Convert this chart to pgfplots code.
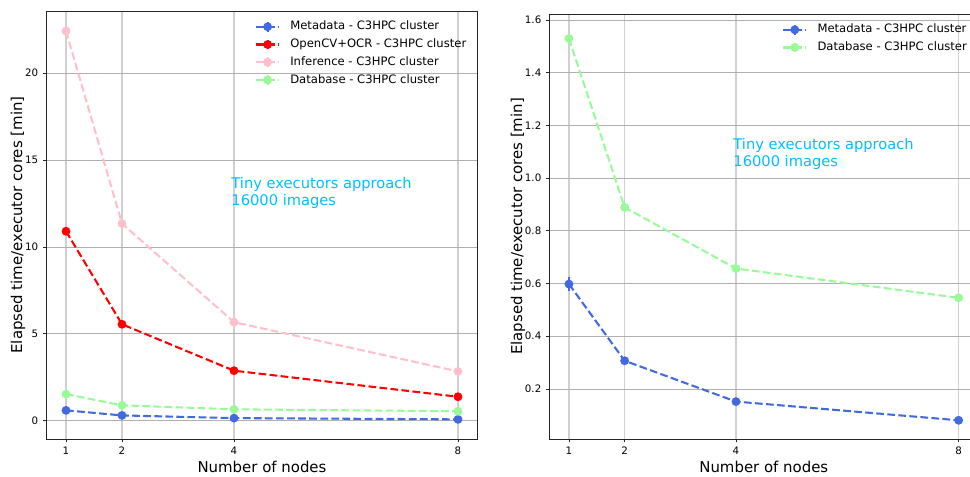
\documentclass[border=0pt]{standalone}
\usepackage{fontspec}
\setmainfont{DejaVu Sans}
\usepackage{pgfplots}
\pgfplotsset{compat=1.18}

\definecolor{royalblue}{RGB}{65,105,225}
\definecolor{pinkc}{RGB}{255,192,203}
\definecolor{palegreen}{RGB}{152,251,152}
\definecolor{deepskyblue}{RGB}{0,191,255}
\definecolor{gridgray}{RGB}{176,176,176}
\definecolor{gridlight}{RGB}{208,208,208}

\pgfplotsset{
  panel/.style={
    scale only axis,
    axis line style={black!85, line width=0.6pt},
    xmin=0.65, xmax=8.35,
    xtick={1,2,4,8},
    grid=major,
    x grid style={gridlight, line width=1.1pt},
    y grid style={gridgray, line width=0.6pt},
    tick align=outside,
    xtick pos=bottom, ytick pos=left,
    major tick length=2.6pt,
    tick style={black!85, line width=0.6pt},
    ticklabel style={font=\fontsize{7.7}{9}\selectfont},
    /pgf/number format/assume math mode=true,
    label style={font=\fontsize{11.2}{13}\selectfont},
    xlabel={Number of nodes},
    ylabel={Elapsed time/executor cores [min]},
    ylabel shift=-7pt,
    xlabel shift=-2.5pt,
    legend cell align=left,
    legend style={draw=none, fill=none, inner sep=0pt,
      font=\fontsize{8.7}{10}\selectfont,
      at={(1,1)}, anchor=north east, xshift=-8.25pt, yshift=-7.25pt,
      column sep=7.5pt, row sep=4.55pt,
      nodes={inner sep=0pt, text height=6.5pt, text depth=1.7pt}},
    legend image code/.code={
      \draw[##1, mark=none] (0pt,0pt) -- (17.5pt,0pt);
      \draw[##1, solid, mark=none] (8.75pt,-3.6pt) -- (8.75pt,3.6pt);
      \path[##1, draw=none] plot coordinates {(8.75pt,0pt)};
    },
  },
  series/.style={
    color=#1, line width=1.55pt, dash pattern=on 5.8pt off 2.5pt,
    mark=*, mark size=2.5pt, mark options={solid},
    error bars/.cd, y dir=both, y explicit,
    error bar style={solid, line width=1.1pt},
    error mark=none,
  },
}

\begin{document}
\begin{tikzpicture}
\useasboundingbox (0,0) rectangle (727.5pt,357pt);

% Left panel: all four stages
\begin{axis}[panel,
  at={(34.8pt,27.75pt)}, anchor=south west,
  width=323.4pt, height=321pt,
  ymin=-1.05, ymax=23.57,
  ytick={0,5,10,15,20},
]
\addplot[series=royalblue] table[x=n, y=t, y error=e] {
n t e
1 0.598 0.02
2 0.307 0.01
4 0.152 0.006
8 0.081 0.004
};
\addlegendentry{Metadata - C3HPC cluster}
\addplot[series=red] table[x=n, y=t, y error=e] {
n t e
1 10.90 0.08
2 5.55 0.06
4 2.88 0.04
8 1.38 0.03
};
\addlegendentry{OpenCV+OCR - C3HPC cluster}
\addplot[series=pinkc] table[x=n, y=t, y error=e] {
n t e
1 22.42 0.1
2 11.34 0.08
4 5.67 0.05
8 2.84 0.03
};
\addlegendentry{Inference - C3HPC cluster}
\addplot[series=palegreen] table[x=n, y=t, y error=e] {
n t e
1 1.53 0.02
2 0.889 0.01
4 0.657 0.008
8 0.546 0.006
};
\addlegendentry{Database - C3HPC cluster}
\node[anchor=north west, inner sep=0pt, align=left, text=deepskyblue,
  font=\fontsize{11}{12.6}\selectfont] at (axis cs:3.95,14.0)
  {Tiny executors approach\\16000 images};
\end{axis}

% Right panel: the two fast stages
\begin{axis}[panel,
  at={(412.1pt,27.75pt)}, anchor=south west,
  width=321.5pt, height=318.75pt,
  ymin=0.01, ymax=1.623,
  ytick={0.2,0.4,0.6,0.8,1.0,1.2,1.4,1.6},
  yticklabel style={/pgf/number format/.cd, fixed, fixed zerofill, precision=1},
]
\addplot[series=royalblue] table[x=n, y=t, y error=e] {
n t e
1 0.598 0.027
2 0.307 0.01
4 0.152 0.006
8 0.081 0.004
};
\addlegendentry{Metadata - C3HPC cluster}
\addplot[series=palegreen] table[x=n, y=t, y error=e] {
n t e
1 1.530 0.012
2 0.889 0.01
4 0.657 0.008
8 0.546 0.006
};
\addlegendentry{Database - C3HPC cluster}
\node[anchor=north west, inner sep=0pt, align=left, text=deepskyblue,
  font=\fontsize{11}{12.6}\selectfont] at (axis cs:3.95,1.152)
  {Tiny executors approach\\16000 images};
\end{axis}
\end{tikzpicture}
\end{document}
